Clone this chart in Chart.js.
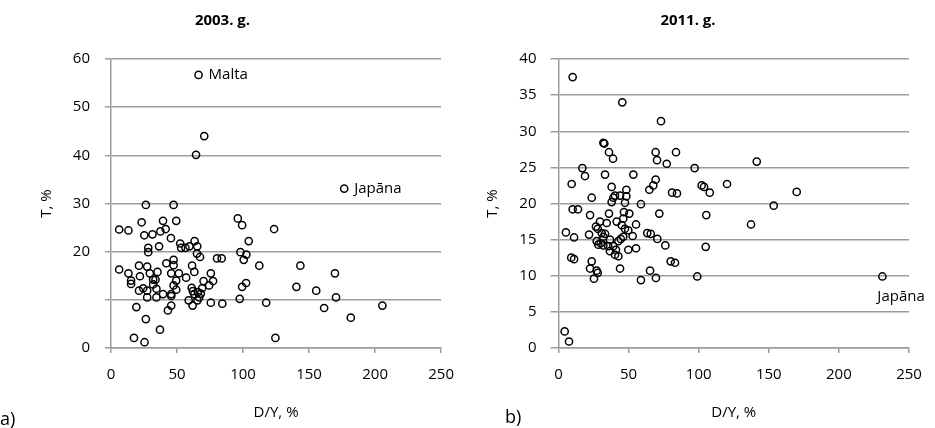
<!DOCTYPE html>
<html>
<head>
<meta charset="utf-8">
<script src="https://cdn.jsdelivr.net/npm/chart.js@4/dist/chart.umd.min.js"></script>
<style>
  body { margin: 0; background: #fff; width: 935px; height: 428px; position: relative; overflow: hidden; }
  canvas { position: absolute; top: 0; }
  #chartA { left: 0; }
  #chartB { left: 467px; }
</style>
</head>
<body>
<canvas id="chartA" width="467" height="428"></canvas>
<canvas id="chartB" width="468" height="428"></canvas>
<script>
// 2003: D/Y, % (x) and T, % (y)
const debt2003 = [66.3, 70.6, 64.4, 176.6, 26.4, 47.4, 6.2, 13.2, 23.2, 39.4, 49.4, 25.2, 31.4, 37.4, 41.4, 45.4,
  28.2, 36.4, 28.2, 52.4, 53.1, 56.4, 59.4, 63.3, 65.3, 65.1, 67.4, 80.3, 83.8, 96.0, 99.3, 104.3, 98.0, 102.5,
  100.5, 123.5, 112.3, 143.4, 169.6, 140.4, 155.4, 99.3, 102.3, 97.5, 170.4, 117.5, 161.4, 205.5, 181.6, 124.5,
  6.2, 13.2, 15.2, 15.2, 21.2, 21.9, 27.4, 29.4, 35.2, 31.9, 33.7, 31.9, 21.2, 24.4, 27.4, 27.4, 34.4, 34.4,
  19.2, 26.4, 17.4, 25.4, 37.1, 39.4, 41.9, 45.6, 47.4, 47.4, 51.4, 49.4, 47.4, 45.6, 45.6, 49.4, 45.6, 43.1,
  56.9, 61.4, 63.1, 61.1, 62.0, 63.1, 58.8, 61.8, 65.5, 66.8, 68.0, 65.8, 69.0, 70.1, 75.6, 77.3, 74.3, 75.6, 84.3];
const tax2003 = [56.7, 44.0, 40.1, 33.1, 29.7, 29.7, 24.6, 24.4, 26.1, 26.4, 26.4, 23.4, 23.6, 24.2, 24.7, 22.8,
  20.8, 21.1, 19.9, 21.7, 20.8, 20.8, 21.1, 22.2, 21.1, 19.6, 18.9, 18.6, 18.6, 26.9, 25.5, 22.2, 19.9, 19.4,
  18.3, 24.7, 17.1, 17.1, 15.5, 12.7, 11.9, 12.7, 13.5, 10.2, 10.5, 9.4, 8.3, 8.8, 6.3, 2.1,
  16.3, 15.5, 14.0, 13.3, 17.1, 14.9, 16.9, 15.5, 15.8, 14.2, 14.2, 13.2, 11.9, 12.4, 10.5, 11.9, 10.5, 12.3,
  8.5, 6.0, 2.1, 1.2, 3.8, 11.2, 17.6, 15.5, 18.3, 17.2, 15.5, 14.0, 13.0, 11.2, 10.8, 12.1, 8.8, 7.8,
  14.6, 17.1, 15.8, 12.5, 11.8, 11.2, 9.9, 8.8, 9.9, 10.5, 11.3, 11.6, 12.4, 13.9, 15.5, 13.9, 13.0, 9.4, 9.2];

// 2011
const debt2011 = [10.1, 45.5, 73.1, 32.0, 32.7, 36.0, 38.9, 69.3, 70.3, 83.8, 77.2, 97.1, 17.0, 18.9, 33.2, 53.4,
  9.4, 37.9, 48.4, 69.3, 67.6, 64.8, 81.0, 84.5, 102.1, 103.8, 107.9, 120.2, 23.7, 40.3, 39.1, 48.4, 141.4, 169.9,
  153.5, 137.3, 231.0, 37.9, 43.9, 47.4, 58.8, 10.1, 13.9, 22.5, 36.0, 46.7, 50.5, 46.2, 71.9, 105.4, 29.6, 34.4,
  26.7, 28.0, 41.5, 45.1, 47.4, 49.8, 55.3, 5.3, 11.1, 21.8, 30.8, 33.2, 32.0, 27.2, 30.1, 32.0, 28.4, 35.5, 36.7,
  39.1, 41.0, 36.7, 42.7, 44.4, 46.2, 52.9, 40.3, 42.7, 63.3, 65.8, 70.5, 76.2, 105.0, 49.8, 55.3, 9.1, 11.1,
  80.0, 83.1, 23.7, 22.5, 27.2, 28.0, 25.3, 43.9, 65.3, 69.5, 58.8, 99.0, 4.4, 7.5];
const tax2011 = [37.5, 34.0, 31.4, 28.4, 28.3, 27.1, 26.2, 27.1, 26.0, 27.1, 25.5, 24.9, 24.9, 23.8, 24.0, 24.0,
  22.7, 22.3, 21.9, 23.3, 22.5, 21.9, 21.5, 21.4, 22.5, 22.3, 21.5, 22.7, 20.8, 21.1, 20.8, 21.0, 25.8, 21.6,
  19.7, 17.1, 9.9, 20.2, 21.1, 20.1, 19.9, 19.2, 19.2, 18.4, 18.6, 18.8, 18.6, 17.9, 18.6, 18.4, 17.5, 17.3,
  16.8, 16.5, 17.5, 17.0, 16.5, 16.3, 17.1, 16.0, 15.3, 15.7, 15.9, 15.8, 15.4, 14.8, 14.5, 14.2, 14.3, 14.1, 15.0,
  14.1, 13.6, 13.4, 14.8, 15.1, 15.4, 15.5, 12.9, 12.7, 15.9, 15.8, 15.1, 14.2, 14.0, 13.6, 13.8, 12.5, 12.3,
  12.0, 11.8, 12.0, 11.0, 10.7, 10.4, 9.6, 11.0, 10.7, 9.7, 9.4, 9.9, 2.3, 0.9];

const titles = ['2003. g.', '2011. g.'];
const panels = ['a)', 'b)'];
const xTitle = 'D/Y, %';
const yTitle = 'T, %';
const hiddenTicks2003 = [10];
// named points: index in the series -> country
const names2003 = [[0, 'Malta'], [3, 'Japāna']];
const names2011 = [[36, 'Japāna']];

const FONT = '"Open Sans", "DejaVu Sans", sans-serif';
const GRID = '#9c9c9c';

const notes = {
  id: 'notes',
  afterDatasetsDraw(chart, args, opts) {
    const ctx = chart.ctx, xs = chart.scales.x, ys = chart.scales.y;
    const pts = chart.data.datasets[0].data;
    ctx.save();
    ctx.fillStyle = '#000';
    ctx.textBaseline = 'middle';
    ctx.font = '15px ' + FONT;
    opts.names.forEach(function(n) {
      const p = pts[n[0]];
      ctx.fillText(n[1], xs.getPixelForValue(p.x) + opts.dx, ys.getPixelForValue(p.y) + opts.dy);
    });
    ctx.font = '18px ' + FONT;
    ctx.fillText(opts.panel, opts.px, opts.py);
    ctx.restore();
  }
};

function makeChart(id, xs, ys, o) {
  return new Chart(document.getElementById(id), {
    type: 'scatter',
    data: {
      datasets: [{
        data: xs.map(function(x, i) { return { x: x, y: ys[i] }; }),
        borderColor: '#000',
        backgroundColor: 'rgba(0,0,0,0)',
        borderWidth: 1.5,
        pointRadius: 3.6,
        pointHoverRadius: 3.6
      }]
    },
    options: {
      responsive: false,
      animation: false,
      layout: { padding: { left: 0, right: o.padRight, top: 0, bottom: 6 } },
      plugins: {
        legend: { display: false },
        tooltip: { enabled: false },
        title: {
          display: true,
          text: o.title,
          color: '#000',
          font: { family: FONT, size: 15, weight: 'bold' },
          padding: { top: 12, bottom: 29 }
        },
        notes: o.notes
      },
      scales: {
        x: {
          type: 'linear',
          min: 0, max: 250,
          border: { color: GRID, width: 1.5 },
          grid: { drawOnChartArea: false, color: GRID, lineWidth: 1.5, tickLength: 5 },
          ticks: { stepSize: 50, color: '#000', padding: 13, font: { family: FONT, size: 15 } },
          title: { display: true, text: xTitle, color: '#000', padding: { top: 7, bottom: 0 }, font: { family: FONT, size: 15 } }
        },
        y: {
          min: 0, max: o.yMax,
          border: { color: GRID, width: 1.5 },
          grid: { color: GRID, lineWidth: 1.5, tickLength: o.tickLen },
          ticks: {
            stepSize: o.yStep, color: '#000', padding: o.tickPad, font: { family: FONT, size: 15 },
            callback: function(v) { return o.hide.indexOf(v) >= 0 ? '' : v; }
          },
          title: { display: true, text: yTitle, color: '#000', padding: { top: o.yTitlePad, bottom: 0 }, font: { family: FONT, size: 15 } },
          afterFit: function(scale) { scale.width = o.yWidth; }
        }
      }
    },
    plugins: [notes]
  });
}

makeChart('chartA', debt2003, tax2003, {
  title: titles[0], yMax: 60, yStep: 10, hide: hiddenTicks2003,
  padRight: 22, yWidth: 111, tickLen: 6, tickPad: 15, yTitlePad: 38,
  notes: { names: names2003, dx: 10, dy: 0, panel: panels[0], px: 0, py: 420 }
});
makeChart('chartB', debt2011, tax2011, {
  title: titles[1], yMax: 40, yStep: 5, hide: [],
  padRight: 26, yWidth: 91.5, tickLen: 8, tickPad: 14, yTitlePad: 17,
  notes: { names: names2011, dx: -5, dy: 20, panel: panels[1], px: 38, py: 418 }
});
</script>
</body>
</html>
